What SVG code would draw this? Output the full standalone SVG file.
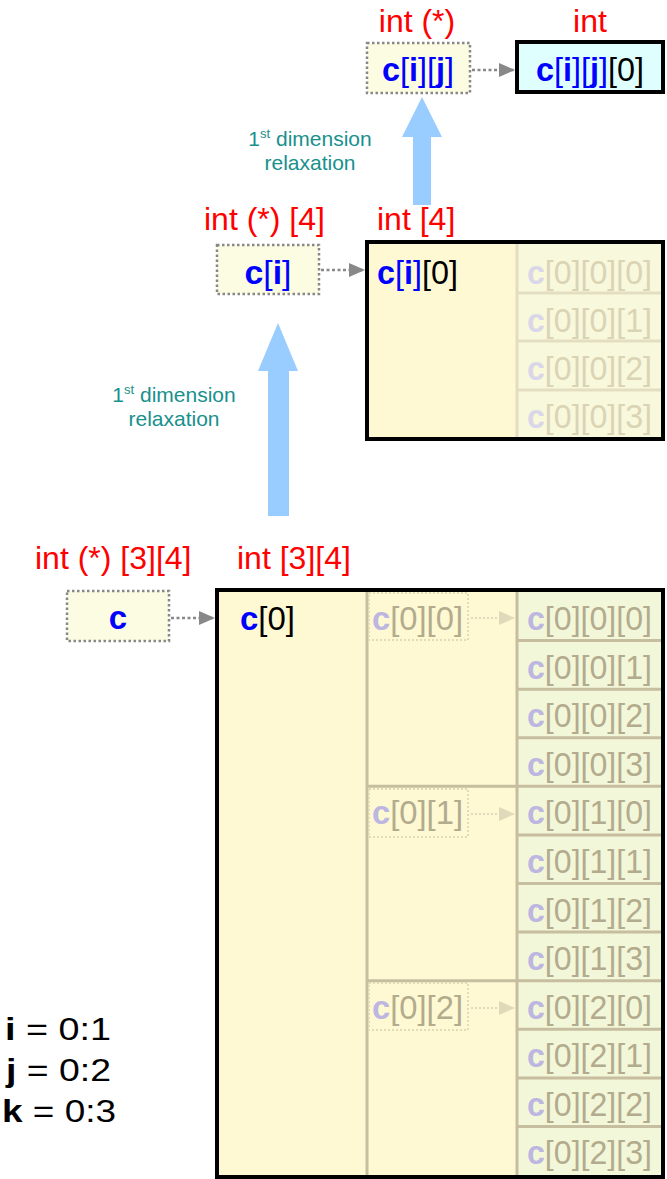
<svg xmlns="http://www.w3.org/2000/svg" width="667" height="1179" viewBox="0 0 667 1179">
<defs>
<style>
text{font-family:"Liberation Sans",Arial,sans-serif;font-size:33px}
.red{fill:#ff0000;font-size:32px}
.teal{fill:#18908c;font-size:21px}
.sup{font-size:13px}
.cb{fill:#0000ff;font-weight:bold}
.bl{fill:#0000ff}
.bk{fill:#000000}
.gc{fill:#bcb6e0;font-weight:bold}
.gb{fill:#b3ab8d}
.hc{fill:#d9d7e7;font-weight:bold}
.hb{fill:#dad4b5}
.ptr{fill:#fcfce2;stroke:#888888;stroke-width:2.5;stroke-dasharray:2.5 2.5}
.gptr{fill:none;stroke:#e2dcb6;stroke-width:2;stroke-dasharray:2 2}
.big{fill:#fef9d3;stroke:#000000;stroke-width:4}
.dash{stroke:#888888;stroke-width:2.5;stroke-dasharray:3 2.5;fill:none}
.gdash{stroke:#e0dabd;stroke-width:2;stroke-dasharray:2 2;fill:none}
.div{stroke:#c6be9e;stroke-width:3;fill:none}
.hdiv{stroke:#e3ddc2;stroke-width:3;fill:none}
.blue{fill:#99ccff}
.var{font-size:31px;fill:#000}
</style>
<marker id="ah" markerWidth="16" markerHeight="14" refX="16" refY="7" orient="auto" markerUnits="userSpaceOnUse">
<path d="M0,0 L16,7 L0,14 Z" fill="#888888"/>
</marker>
<marker id="gah" markerWidth="16" markerHeight="14" refX="16" refY="7" orient="auto" markerUnits="userSpaceOnUse">
<path d="M0,0 L16,7 L0,14 Z" fill="#e0dabb"/>
</marker>
</defs>
<rect width="667" height="1179" fill="#ffffff"/>

<g id="labels">
<text class="red" x="417" y="32" text-anchor="middle">int (*)</text>
<text class="red" x="590" y="32" text-anchor="middle">int</text>
<text class="red" x="204" y="230">int (*) [4]</text>
<text class="red" x="377" y="230">int [4]</text>
<text class="red" x="35" y="569">int (*) [3][4]</text>
<text class="red" x="237" y="569">int [3][4]</text>
<text class="teal" x="310" y="146" text-anchor="middle">1<tspan class="sup" dy="-8">st</tspan><tspan dy="8"> dimension</tspan></text>
<text class="teal" x="310" y="170" text-anchor="middle">relaxation</text>
<text class="teal" x="174" y="402" text-anchor="middle">1<tspan class="sup" dy="-8">st</tspan><tspan dy="8"> dimension</tspan></text>
<text class="teal" x="174" y="426" text-anchor="middle">relaxation</text>
<text class="var" x="5" y="1040" textLength="106" lengthAdjust="spacingAndGlyphs"><tspan font-weight="bold">i</tspan> = 0:1</text>
<text class="var" x="6" y="1081" textLength="105" lengthAdjust="spacingAndGlyphs"><tspan font-weight="bold">j</tspan> = 0:2</text>
<text class="var" x="2" y="1122" textLength="114" lengthAdjust="spacingAndGlyphs"><tspan font-weight="bold">k</tspan> = 0:3</text>
</g>

<g id="relaxation-arrows">
<polygon class="blue" points="422,97 442,137 431,137 431,205 413,205 413,137 402,137"/>
<polygon class="blue" points="278,323 298,371 289,371 289,516 268,516 268,371 258,371"/>
</g>

<g id="node-cij">
<rect class="ptr" x="367" y="43" width="103" height="50"/>
<text x="418" y="81" text-anchor="middle" textLength="72" lengthAdjust="spacingAndGlyphs"><tspan class="cb">c</tspan><tspan class="bl">[</tspan><tspan class="cb">i</tspan><tspan class="bl">][</tspan><tspan class="cb">j</tspan><tspan class="bl">]</tspan></text>
</g>

<g id="node-cij0">
<rect x="517" y="42" width="146" height="50" fill="#dfffff" stroke="#000000" stroke-width="4"/>
<text x="590" y="81" text-anchor="middle" textLength="108" lengthAdjust="spacingAndGlyphs"><tspan class="cb">c</tspan><tspan class="bl">[</tspan><tspan class="cb">i</tspan><tspan class="bl">][</tspan><tspan class="cb">j</tspan><tspan class="bl">]</tspan><tspan class="bk">[0]</tspan></text>
</g>

<g id="node-ci">
<rect class="ptr" x="217" y="245" width="102" height="49"/>
<text x="268" y="284" text-anchor="middle" textLength="47" lengthAdjust="spacingAndGlyphs"><tspan class="cb">c</tspan><tspan class="bl">[</tspan><tspan class="cb">i</tspan><tspan class="bl">]</tspan></text>
</g>

<g id="node-ci-array">
<rect class="big" x="367" y="242" width="296" height="197"/>
<rect x="517" y="244" width="144" height="193" fill="#f8f8dc"/>
<path class="hdiv" d="M517,244 V437 M517,293 H661 M517,341 H661 M517,390 H661"/>
<rect x="367" y="242" width="296" height="197" fill="none" stroke="#000" stroke-width="4"/>
<text x="377" y="284" textLength="81" lengthAdjust="spacingAndGlyphs"><tspan class="cb">c</tspan><tspan class="bl">[</tspan><tspan class="cb">i</tspan><tspan class="bl">]</tspan><tspan class="bk">[0]</tspan></text>
<text x="527" y="284" textLength="125" lengthAdjust="spacingAndGlyphs"><tspan class="hc">c</tspan><tspan class="hb">[0][0][0]</tspan></text>
<text x="527" y="332" textLength="125" lengthAdjust="spacingAndGlyphs"><tspan class="hc">c</tspan><tspan class="hb">[0][0][1]</tspan></text>
<text x="527" y="380" textLength="125" lengthAdjust="spacingAndGlyphs"><tspan class="hc">c</tspan><tspan class="hb">[0][0][2]</tspan></text>
<text x="527" y="428" textLength="125" lengthAdjust="spacingAndGlyphs"><tspan class="hc">c</tspan><tspan class="hb">[0][0][3]</tspan></text>
</g>

<g id="node-c">
<rect class="ptr" x="67" y="591" width="102" height="50"/>
<text x="118" y="629" text-anchor="middle"><tspan class="cb">c</tspan></text>
</g>

<g id="node-c-array">
<rect class="big" x="217" y="590" width="446" height="587"/>
<rect x="517" y="592" width="144" height="583" fill="#f3f7d9"/>
<path class="div" d="M367,592 V1175 M517,592 V1175"/>
<path class="div" d="M367,786.3 H661 M367,980.7 H661"/>
<path class="div" d="M517,640.6 H661 M517,689.2 H661 M517,737.7 H661 M517,834.9 H661 M517,883.5 H661 M517,932.1 H661 M517,1029.3 H661 M517,1077.9 H661 M517,1126.4 H661"/>
<rect x="217" y="590" width="446" height="587" fill="none" stroke="#000" stroke-width="4"/>
<text x="240" y="630" textLength="55" lengthAdjust="spacingAndGlyphs"><tspan class="cb">c</tspan><tspan class="bk">[0]</tspan></text>

<rect class="gptr" x="369" y="593" width="99" height="47"/>
<text x="372" y="630" textLength="91" lengthAdjust="spacingAndGlyphs"><tspan class="gc">c</tspan><tspan class="gb">[0][0]</tspan></text>
<rect class="gptr" x="369" y="789" width="99" height="48"/>
<text x="372" y="824" textLength="91" lengthAdjust="spacingAndGlyphs"><tspan class="gc">c</tspan><tspan class="gb">[0][1]</tspan></text>
<rect class="gptr" x="369" y="983" width="99" height="47"/>
<text x="372" y="1019" textLength="91" lengthAdjust="spacingAndGlyphs"><tspan class="gc">c</tspan><tspan class="gb">[0][2]</tspan></text>

<text x="527" y="630" textLength="125" lengthAdjust="spacingAndGlyphs"><tspan class="gc">c</tspan><tspan class="gb">[0][0][0]</tspan></text>
<text x="527" y="679" textLength="125" lengthAdjust="spacingAndGlyphs"><tspan class="gc">c</tspan><tspan class="gb">[0][0][1]</tspan></text>
<text x="527" y="727" textLength="125" lengthAdjust="spacingAndGlyphs"><tspan class="gc">c</tspan><tspan class="gb">[0][0][2]</tspan></text>
<text x="527" y="776" textLength="125" lengthAdjust="spacingAndGlyphs"><tspan class="gc">c</tspan><tspan class="gb">[0][0][3]</tspan></text>
<text x="527" y="824" textLength="125" lengthAdjust="spacingAndGlyphs"><tspan class="gc">c</tspan><tspan class="gb">[0][1][0]</tspan></text>
<text x="527" y="873" textLength="125" lengthAdjust="spacingAndGlyphs"><tspan class="gc">c</tspan><tspan class="gb">[0][1][1]</tspan></text>
<text x="527" y="922" textLength="125" lengthAdjust="spacingAndGlyphs"><tspan class="gc">c</tspan><tspan class="gb">[0][1][2]</tspan></text>
<text x="527" y="970" textLength="125" lengthAdjust="spacingAndGlyphs"><tspan class="gc">c</tspan><tspan class="gb">[0][1][3]</tspan></text>
<text x="527" y="1019" textLength="125" lengthAdjust="spacingAndGlyphs"><tspan class="gc">c</tspan><tspan class="gb">[0][2][0]</tspan></text>
<text x="527" y="1067" textLength="125" lengthAdjust="spacingAndGlyphs"><tspan class="gc">c</tspan><tspan class="gb">[0][2][1]</tspan></text>
<text x="527" y="1116" textLength="125" lengthAdjust="spacingAndGlyphs"><tspan class="gc">c</tspan><tspan class="gb">[0][2][2]</tspan></text>
<text x="527" y="1164" textLength="125" lengthAdjust="spacingAndGlyphs"><tspan class="gc">c</tspan><tspan class="gb">[0][2][3]</tspan></text>
</g>

<g id="connectors">
<line class="dash" x1="472" y1="70" x2="515" y2="70" marker-end="url(#ah)"/>
<line class="dash" x1="321" y1="270" x2="365" y2="270" marker-end="url(#ah)"/>
<line class="dash" x1="171" y1="618" x2="215" y2="618" marker-end="url(#ah)"/>
<line class="gdash" x1="471" y1="618" x2="515" y2="618" marker-end="url(#gah)"/>
<line class="gdash" x1="471" y1="814" x2="515" y2="814" marker-end="url(#gah)"/>
<line class="gdash" x1="471" y1="1008" x2="515" y2="1008" marker-end="url(#gah)"/>
</g>
</svg>
